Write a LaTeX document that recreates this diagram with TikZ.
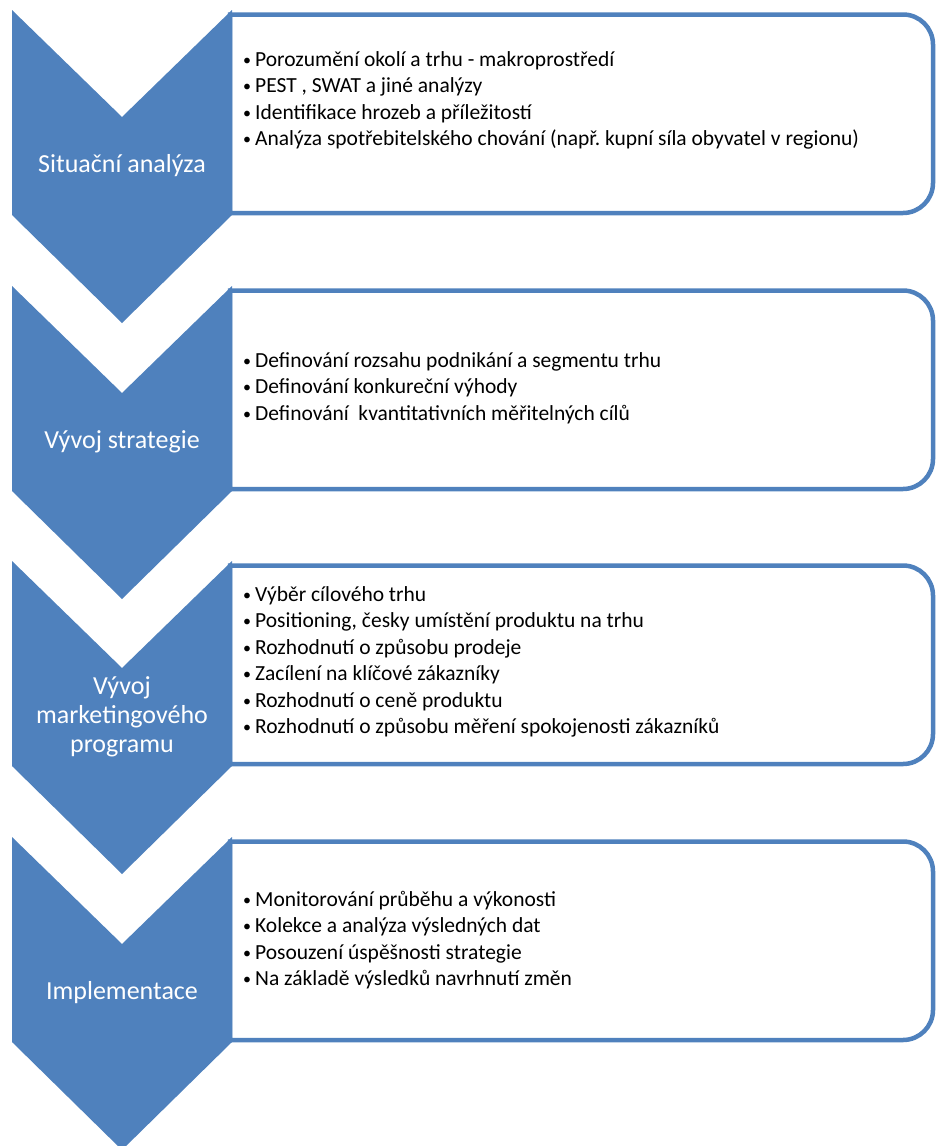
\documentclass[tikz,border=0pt]{standalone}
\usepackage{fontspec}
\setmainfont{Carlito}
\definecolor{stageblue}{HTML}{4F81BD}
\newcommand{\bul}{\makebox[12pt][l]{\raisebox{1pt}{\fontsize{16}{16}\selectfont •}}}

\begin{document}
\begin{tikzpicture}
    [x=1pt,y=-1pt,
    chevron/.style={fill=stageblue,draw=none},
    listbox/.style={draw=stageblue,line width=4.5pt,fill=white},
    stagelabel/.style={text=white,align=center,inner sep=0pt,
    font=\fontsize{26}{29}\selectfont},
    itemlist/.style={anchor=base west,align=left,inner sep=0pt,
    font=\fontsize{21.5}{26.5}\selectfont}]
    \useasboundingbox (0,0) rectangle (936,1146);
    % the four rounded boxes
    \draw[listbox] (230,213) -- (230,14.5) -- (903,14.5) arc[start angle=-90,end angle=0,radius=30]
        -- (933,183) arc[start angle=0,end angle=90,radius=30] -- cycle;
    \draw[listbox] (230,489) -- (230,290.5) -- (903,290.5) arc[start angle=-90,end angle=0,radius=30]
        -- (933,459) arc[start angle=0,end angle=90,radius=30] -- cycle;
    \draw[listbox] (230,764) -- (230,565.5) -- (903,565.5) arc[start angle=-90,end angle=0,radius=30]
        -- (933,734) arc[start angle=0,end angle=90,radius=30] -- cycle;
    \draw[listbox] (230,1040) -- (230,841.5) -- (903,841.5) arc[start angle=-90,end angle=0,radius=30]
        -- (933,1010) arc[start angle=0,end angle=90,radius=30] -- cycle;
    % the chevrons
    \fill[chevron] (12,10) -- (122,117) -- (232,10) -- (232,215) -- (122,323) -- (12,215) -- cycle;
    \fill[chevron] (12,286) -- (122,393) -- (232,286) -- (232,491) -- (122,599) -- (12,491) -- cycle;
    \fill[chevron] (12,561) -- (122,668) -- (232,561) -- (232,766) -- (122,874) -- (12,766) -- cycle;
    \fill[chevron] (12,837) -- (122,944) -- (232,837) -- (232,1042) -- (122,1150) -- (12,1042) -- cycle;
    \node[stagelabel] (situace) at (122,166) {Situační analýza};
    \node[stagelabel] (strategie) at (122,442) {Vývoj strategie};
    \node[stagelabel] (program) at (122,717) {Vývoj\\marketingového\\programu};
    \node[stagelabel] (implementace) at (122,993) {Implementace};
    % lists, placed at the baseline of their last line
    \node[itemlist] (situacelist) at (243,145.5) {\bul Porozumění okolí a trhu - makroprostředí\\
        \bul PEST , SWAT a jiné analýzy\\
        \bul Identifikace hrozeb a příležitostí\\
        \bul Analýza spotřebitelského chování (např.\ kupní síla obyvatel v regionu)};
    \node[itemlist] (strategielist) at (243,420) {\bul Definování rozsahu podnikání a segmentu trhu\\
        \bul Definování konkureční výhody\\
        \bul Definování\ \ kvantitativních měřitelných cílů};
    \node[itemlist] (programlist) at (243,733.5) {\bul Výběr cílového trhu\\
        \bul Positioning, česky umístění produktu na trhu\\
        \bul Rozhodnutí o způsobu prodeje\\
        \bul Zacílení na klíčové zákazníky\\
        \bul Rozhodnutí o ceně produktu\\
        \bul Rozhodnutí o způsobu měření spokojenosti zákazníků};
    \node[itemlist] (implementacelist) at (243,985.5) {\bul Monitorování průběhu a výkonosti\\
        \bul Kolekce a analýza výsledných dat\\
        \bul Posouzení úspěšnosti strategie\\
        \bul Na základě výsledků navrhnutí změn};
\end{tikzpicture}
\end{document}
